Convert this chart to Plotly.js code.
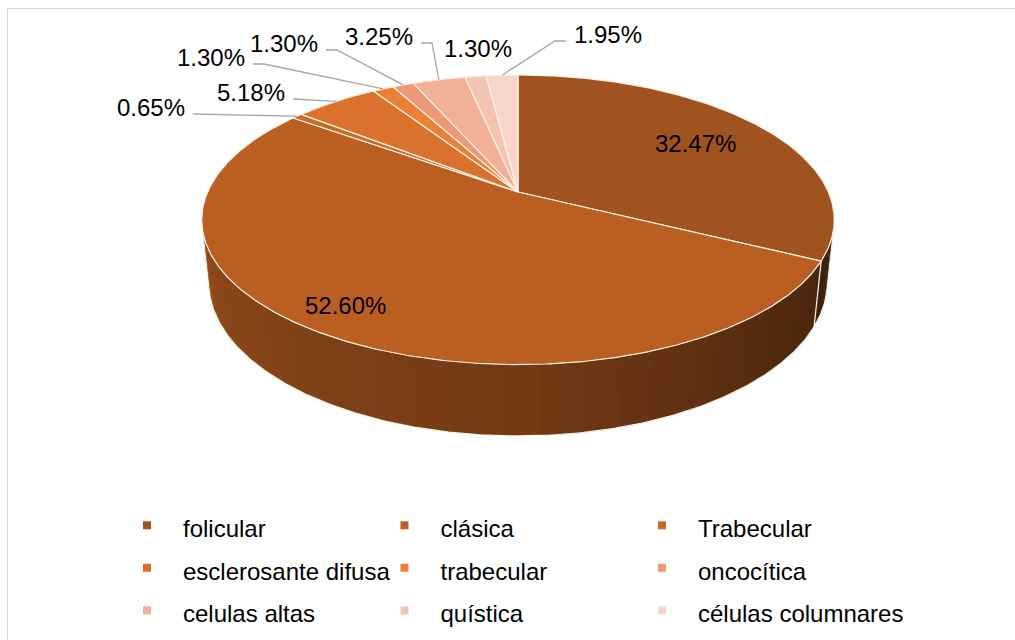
<!DOCTYPE html>
<html><head><meta charset="utf-8">
<script src="https://cdn.plot.ly/plotly-3.0.1.min.js"></script>
<style>html,body{margin:0;padding:0;background:#fff;} #chart{width:1015px;height:640px;}</style>
</head><body><div id="chart"></div>
<script>
// ---------------- data ----------------
const categories = ["folicular","clásica","Trabecular","esclerosante difusa","trabecular","oncocítica","celulas altas","quística","células columnares"];
const percentages = [32.47, 52.60, 0.65, 5.18, 1.30, 1.30, 3.25, 1.30, 1.95];
const sliceColors = ["#A0531F","#BA5E22","#C9692A","#DA722E","#EB8036","#EF9877","#F2B098","#F5C3B2","#F7D5CA"];

// ---------------- style / geometry ----------------
const FONT = "Liberation Sans, Arial, Helvetica, sans-serif";
const EDGE = "#FBF3E4";
const LEADER = "#A6A6A6";
const CX = 518, CY = 192, F = 1445, D = 4.655, SN = 0.4492, CS = 0.8934, H = 0.2273;
// label placement (layout only): inside labels by radius, outside labels by anchor
const labelPlace = [
  {inside:true, r:0.72, dx:0, dy:0},
  {inside:true, r:0.86, dx:-10, dy:5},
  {tx:187, ty:107, anchor:'right', elbow:false},
  {tx:287, ty:92,  anchor:'right', elbow:false},
  {tx:247, ty:57,  anchor:'right', elbow:true},
  {tx:320, ty:43,  anchor:'right', elbow:true},
  {tx:415, ty:36,  anchor:'right', elbow:true},
  {tx:478, ty:48,  anchor:'center', none:true},
  {tx:572, ty:34,  anchor:'left', elbow:true}
];

function proj(theta, r, z){
  const t = theta*Math.PI/180;
  const u = r*Math.sin(t), v = r*Math.cos(t);
  const Y = v*SN + z*CS;
  const Zc = D + v*CS - z*SN;
  return [CX + F*u/Zc, CY - F*Y/Zc];
}
function hexToRgb(h){ return [parseInt(h.substr(1,2),16),parseInt(h.substr(3,2),16),parseInt(h.substr(5,2),16)]; }
function shade(h, f){ const c = hexToRgb(h); return 'rgb(' + c.map(v=>Math.round(v*f)).join(',') + ')'; }

const total = percentages.reduce((a,b)=>a+b,0);
const starts = [], ends = [];
let acc = 0;
percentages.forEach(p => { starts.push(acc/total*360); acc += p; ends.push(acc/total*360); });

const TH0 = Math.acos(-1/(D*CS))*180/Math.PI, TH1 = 360 - TH0;
const shadeStops = [[TH0,0.36],[140,0.47],[180,0.62],[220,0.70],[TH1,0.78]];
function shadeFactor(t){
  for(let k=0;k<shadeStops.length-1;k++){
    const a = shadeStops[k], b = shadeStops[k+1];
    if(t <= b[0]) return a[1] + (b[1]-a[1])*(t-a[0])/(b[0]-a[0]);
  }
  return shadeStops[shadeStops.length-1][1];
}
function arc(a0, a1, r, z, step){
  const pts = []; const n = Math.max(1, Math.ceil(Math.abs(a1-a0)/step));
  for(let k=0;k<=n;k++){ pts.push(proj(a0 + (a1-a0)*k/n, r, z)); }
  return pts;
}

const traces = [];
// side walls
percentages.forEach((p,i) => {
  const s = Math.max(starts[i], TH0), e = Math.min(ends[i], TH1);
  if(s >= e) return;
  const n = Math.ceil((e-s)/2.5);
  for(let k=0;k<n;k++){
    const p0 = s + (e-s)*k/n, p1 = s + (e-s)*(k+1)/n;
    const p1e = Math.min(p1 + 0.5, e);
    const pts = arc(p0, p1e, 1, 0, 0.5).concat(arc(p1e, p0, 1, -H, 0.5));
    traces.push({type:'scatter', mode:'none', fill:'toself', showlegend:false, hoverinfo:'skip',
      x: pts.map(q=>q[0]), y: pts.map(q=>q[1]),
      fillcolor: shade(sliceColors[i], shadeFactor((p0+p1)/2))});
  }
});
// wall edges
(function(){
  const xs = [], ys = [];
  arc(TH0, TH1, 1, -H, 0.5).forEach(q=>{xs.push(q[0]); ys.push(q[1]);});
  const verts = [TH0, TH1].concat(starts.filter(a => a > TH0 && a < TH1));
  verts.forEach(a => { const t = proj(a,1,0), b = proj(a,1,-H); xs.push(null, t[0], b[0]); ys.push(null, t[1], b[1]); });
  traces.push({type:'scatter', mode:'lines', showlegend:false, hoverinfo:'skip', x:xs, y:ys,
    line:{color:EDGE, width:1.2}});
})();
// top faces
percentages.forEach((p,i) => {
  const pts = [proj(0,0,0)].concat(arc(starts[i], ends[i], 1, 0, 0.5)).concat([proj(0,0,0)]);
  traces.push({type:'scatter', mode:'lines', fill:'toself', showlegend:false, hoverinfo:'skip',
    x: pts.map(q=>q[0]), y: pts.map(q=>q[1]), fillcolor: sliceColors[i],
    line:{color:EDGE, width:1.2}});
});
// labels + leader lines
const annotations = [];
const lx = [], ly = [];
const LABEL_FONT = {family:FONT, size:24, color:'#000'};
percentages.forEach((p,i) => {
  const txt = p.toFixed(2) + '%';
  const mid = (starts[i]+ends[i])/2;
  const L = labelPlace[i];
  if(L.inside){
    const q = proj(mid, L.r, 0);
    annotations.push({x:q[0], y:q[1], xref:'x', yref:'y', text:txt, showarrow:false,
      xshift:L.dx, yshift:L.dy, xanchor:'center', yanchor:'middle', font:LABEL_FONT});
  } else {
    annotations.push({x:L.tx, y:L.ty, xref:'x', yref:'y', text:txt, showarrow:false,
      xanchor:L.anchor, yanchor:'middle', font:LABEL_FONT});
    if(!L.none){
      const rim = proj(mid, 1, 0);
      const dir = L.anchor === 'left' ? -1 : 1;
      const sx = L.tx + dir*6, sy = L.ty + 7;
      lx.push(sx); ly.push(sy);
      if(L.elbow){ lx.push(sx + dir*11); ly.push(sy); }
      lx.push(rim[0], null); ly.push(rim[1], null);
    }
  }
});
traces.push({type:'scatter', mode:'lines', showlegend:false, hoverinfo:'skip', x:lx, y:ly,
  line:{color:LEADER, width:1.3}});
// legend entries
categories.forEach((c,i) => {
  traces.push({type:'scatter', mode:'markers', x:[null], y:[null], name:'<span style="font-size:24px">' + c + '</span>',
    marker:{symbol:'square', size:8, color:sliceColors[i]}, hoverinfo:'skip'});
});

const layout = {
  width:1015, height:640, margin:{l:0,r:0,t:0,b:0},
  paper_bgcolor:'#fff', plot_bgcolor:'#fff',
  xaxis:{range:[0,1015], visible:false, fixedrange:true},
  yaxis:{range:[640,0], visible:false, fixedrange:true},
  hovermode:false, showlegend:true,
  legend:{orientation:'h', x:111/1015, xanchor:'left', y:1-499/640, yanchor:'top',
    font:{family:FONT, size:30.4, color:'#000'}, itemwidth:62, entrywidth:180.5, entrywidthmode:'pixels',
    bgcolor:'rgba(0,0,0,0)', itemclick:false, itemdoubleclick:false},
  annotations: annotations,
  shapes:[
    {type:'line', xref:'paper', yref:'paper', x0:7.5/1015, x1:1, y0:1-8.5/640, y1:1-8.5/640, line:{color:'#D9D9D9', width:1}},
    {type:'line', xref:'paper', yref:'paper', x0:7.5/1015, x1:7.5/1015, y0:0, y1:1-8.5/640, line:{color:'#D9D9D9', width:1}}
  ]
};
Plotly.newPlot('chart', traces, layout, {displayModeBar:false, staticPlot:true}).then(function(){
  // let the last legend column's text run past its fixed entry width, as in the original
  document.querySelectorAll('#chart .legend [clip-path]').forEach(function(el){ el.removeAttribute('clip-path'); });
});
</script></body></html>
